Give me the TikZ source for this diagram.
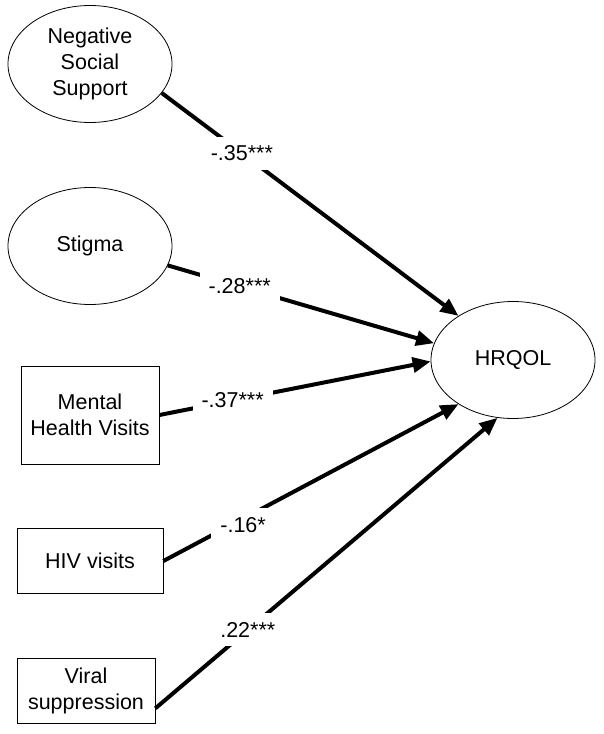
\documentclass[tikz,border=0pt]{standalone}
\usepackage{fontspec}
\setmainfont{Liberation Sans}
\usetikzlibrary{arrows.meta,shapes.geometric}

\begin{document}
\begin{tikzpicture}[x=1pt,y=-1pt,>={Triangle[length=18pt,width=15pt]},font=\fontsize{21.5pt}{26pt}\selectfont]
	\tikzstyle{latent}=[draw, ellipse, line width=.8pt, inner sep=0pt, align=center, minimum width=164pt, minimum height=117pt]
	\tikzstyle{obs}=[draw, rectangle, line width=.8pt, inner sep=0pt, align=center, minimum width=138pt, minimum height=65pt]
	\tikzstyle{effect}=[->, line width=4pt]
	\tikzstyle{coef}=[fill=white, inner sep=9pt, pos=.27]
	\useasboundingbox (0,0) rectangle (604,734);
	\node[latent] (NSS) at (90,64)    {Negative\\Social\\Support};
	\node[latent] (Stig) at (90,246)  {Stigma};
	\node[obs, minimum height=98pt] (MHV) at (90,415) {Mental\\Health Visits};
	\node[obs, minimum width=146pt] (HIV) at (90,561) {HIV visits};
	\node[obs] (VS) at (86,691)       {Viral\\suppression};
	\node[latent] (HRQOL) at (513,360) {HRQOL};
	\path[effect]
		(NSS.338) edge node[coef] {-.35***} (HRQOL.141)
		(Stig.346) edge node[coef] {-.28***} (HRQOL.168)
		(MHV.east) edge node[coef] {-.37***} (HRQOL.181)
		(HIV.east) edge node[coef, yshift=-6pt] {-.16*} (HRQOL.219)
		(VS.346) edge node[coef] {.22***} (HRQOL.255);
\end{tikzpicture}
\end{document}
